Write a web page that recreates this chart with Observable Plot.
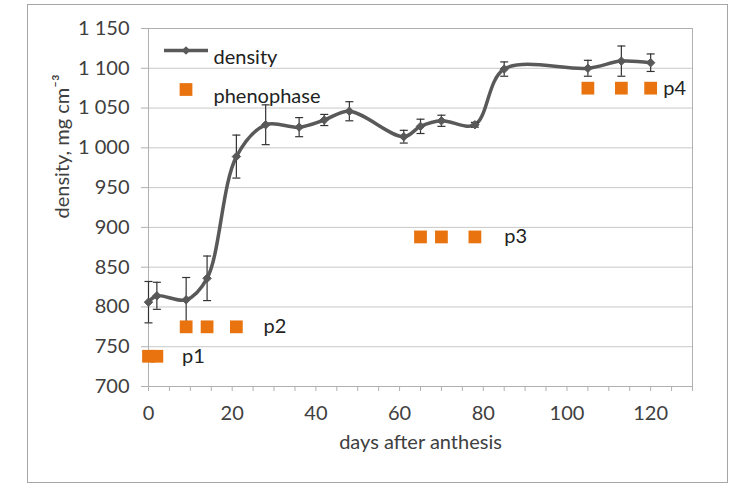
<!DOCTYPE html>
<html>
<head>
<meta charset="utf-8">
<script src="https://cdn.jsdelivr.net/npm/d3@7"></script>
<script src="https://cdn.jsdelivr.net/npm/@observablehq/plot@0.6"></script>
<style>
  html, body { margin: 0; padding: 0; background: #fff; }
  #wrap { position: relative; width: 735px; height: 485px; }
  #border { position: absolute; left: 27px; top: 4px; width: 701px; height: 479px; border: 1.5px solid #a6a6a6; box-sizing: border-box; pointer-events: none; }
  svg { font-family: Lato, "Open Sans", sans-serif; }
</style>
</head>
<body>
<div id="wrap"><div id="border"></div></div>
<script>
// ---- data ----
const days    = [0, 2, 9, 14, 21, 28, 36, 42, 48, 61, 65, 70, 78, 85, 105, 113, 120];
const density = [806, 814, 809, 836, 989, 1029, 1026, 1035, 1046, 1014, 1027, 1034, 1029, 1099, 1100, 1109, 1107];
const errors  = [26, 17, 28, 28, 27, 25, 12, 7, 12, 8, 9, 7, 3, 9, 10, 19, 11];

const phenoNames  = ["p1", "p2", "p3", "p4"];
const phenoValues = [738, 775, 888, 1075];
const phenoDays   = [[0, 2], [9, 14, 21], [65, 70, 78], [105, 113, 120]];
const phenoLabelDays = [8, 27.5, 85, 123];

const yTicks = [700, 750, 800, 850, 900, 950, 1000, 1050, 1100, 1150];
const xTicks = [0, 20, 40, 60, 80, 100, 120];
const xMinorTicks = [0,5,10,15,20,25,30,35,40,45,50,55,60,65,70,75,80,85,90,95,100,105,110,115,120,125,130];

const legendNames = ["density", "phenophase"];
const xLabel = "days after anthesis";
const yLabel = "density, mg cm\u207B\u00B3";

// ---- tables ----
const pts = days.map((d, i) => ({day: d, v: density[i], e: errors[i]}));
const pheno = phenoNames.flatMap((n, i) => phenoDays[i].map(d => ({name: n, day: d, v: phenoValues[i]})));
const phenoLbl = phenoNames.map((n, i) => ({name: n, day: phenoLabelDays[i], v: phenoValues[i]}));

const gray = "#595959";
const orange = "#e8730f";
const textColor = "#404040";
const fontSize = 20;

const cap = {draw(ctx) { ctx.moveTo(-4, 0); ctx.lineTo(4, 0); }};
const legendLine = {draw(ctx) { ctx.moveTo(-22, 0); ctx.lineTo(22, 0); }};

const fmt = d => d >= 1000 ? `${Math.floor(d / 1000)}\u00A0${String(d % 1000).padStart(3, "0")}` : String(d);

const chart = Plot.plot({
  width: 735,
  height: 485,
  marginLeft: 148,
  marginRight: 43,
  marginTop: 28,
  marginBottom: 99,
  style: {fontFamily: "Lato, 'Open Sans', sans-serif", fontSize: fontSize + "px", color: textColor, background: "transparent"},
  x: {domain: [0, 130]},
  y: {domain: [700, 1150]},
  marks: [
    Plot.ruleY(yTicks, {stroke: "#c8c8c8", strokeWidth: 1}),
    Plot.frame({stroke: "#b0b0b0"}),
    Plot.axisY({ticks: yTicks, tickFormat: fmt, tickSize: 7, tickPadding: 12, label: null, stroke: "#b0b0b0", color: textColor, fontSize: fontSize}),
    Plot.axisX({ticks: xMinorTicks, tickFormat: d => xTicks.includes(d) ? String(d) : "", tickSize: 5, tickPadding: 14, label: null, stroke: "#b0b0b0", color: textColor, fontSize: fontSize}),
    Plot.text([yLabel], {text: d => d, frameAnchor: "left", rotate: -90, dx: -86, dy: 11, fill: textColor, fontSize: fontSize}),
    Plot.text([xLabel], {text: d => d, frameAnchor: "bottom", dy: 62, fill: textColor, fontSize: fontSize}),
    // density line
    Plot.line(pts, {x: "day", y: "v", curve: "catmull-rom", stroke: gray, strokeWidth: 3.5}),
    Plot.ruleX(pts, {x: "day", y1: d => d.v - d.e, y2: d => d.v + d.e, stroke: "#333", strokeWidth: 1.2}),
    Plot.dot(pts, {x: "day", y: d => d.v - d.e, symbol: cap, r: 3, stroke: "#333", strokeWidth: 1.2}),
    Plot.dot(pts, {x: "day", y: d => d.v + d.e, symbol: cap, r: 3, stroke: "#333", strokeWidth: 1.2}),
    Plot.dot(pts, {x: "day", y: "v", symbol: "diamond2", r: 3.8, fill: gray, stroke: gray, strokeWidth: 1}),
    // phenophase
    Plot.dot(pheno, {x: "day", y: "v", symbol: "square", r: 7.2, fill: orange}),
    Plot.text(phenoLbl, {x: "day", y: "v", text: "name", textAnchor: "start", fill: "#222", fontSize: fontSize}),
    // legend
    Plot.dot([legendNames[0]], {frameAnchor: "top-left", dx: 37.5, dy: 22, symbol: legendLine, r: 3, stroke: gray, strokeWidth: 3.5}),
    Plot.dot([legendNames[0]], {frameAnchor: "top-left", dx: 37.5, dy: 22, symbol: "diamond2", r: 3.8, fill: gray}),
    Plot.text([legendNames[0]], {text: d => d, frameAnchor: "top-left", dx: 65, dy: 21, textAnchor: "start", fill: "#222", fontSize: fontSize}),
    Plot.dot([legendNames[1]], {frameAnchor: "top-left", dx: 37.5, dy: 61, symbol: "square", r: 7.2, fill: orange}),
    Plot.text([legendNames[1]], {text: d => d, frameAnchor: "top-left", dx: 65, dy: 60, textAnchor: "start", fill: "#222", fontSize: fontSize})
  ]
});
document.getElementById("wrap").prepend(chart);
</script>
</body>
</html>
